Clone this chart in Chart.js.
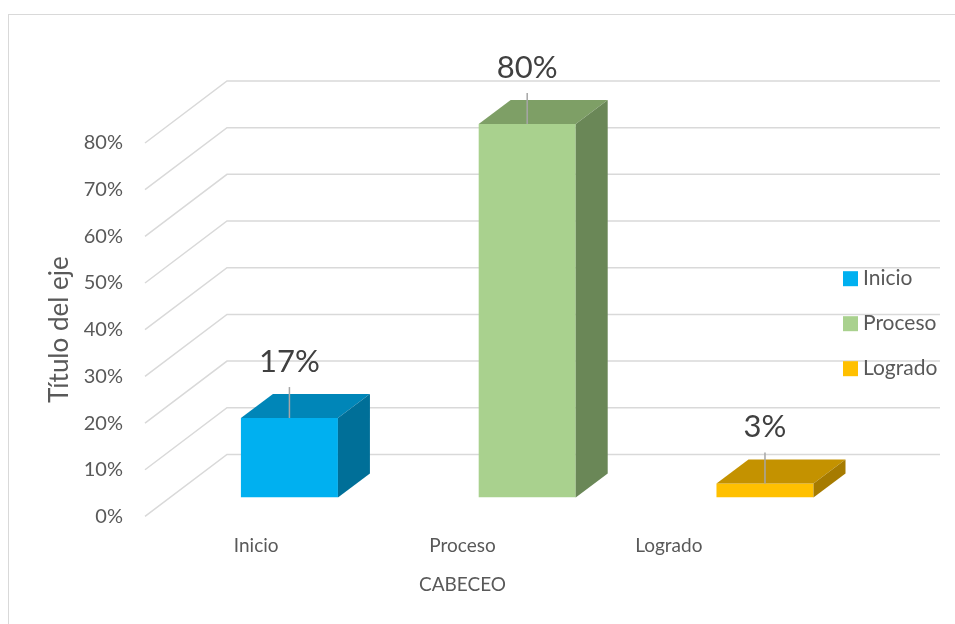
<!DOCTYPE html>
<html>
<head>
<meta charset="utf-8">
<script src="https://cdn.jsdelivr.net/npm/chart.js@4"></script>
<style>
    body { margin: 0; background: #fff; }
    #wrap { position: relative; width: 955px; height: 624px; }
    #frame {
        position: absolute; left: 8px; top: 14px; width: 960px; height: 620px;
        border: 1.5px solid #d9d9d9; pointer-events: none;
    }
</style>
</head>
<body>
<div id="wrap">
    <div id="frame"></div>
    <canvas id="chart"></canvas>
</div>
<script>
// Data
const categories = ['Inicio', 'Proceso', 'Logrado'];
const values = [0.17, 0.80, 0.03];
const yTicks = [0, 0.1, 0.2, 0.3, 0.4, 0.5, 0.6, 0.7, 0.8];
const axisTitleY = 'Título del eje';
const axisTitleX = 'CABECEO';

// Colours: front face, top face, side face
const frontColors = ['#00B0F0', '#A9D18E', '#FFC000'];
const topColors = ['#0086B8', '#7E9F66', '#C49200'];
const sideColors = ['#006F98', '#6A8757', '#A67B00'];

const textColor = '#595959';
const gridColor = '#d9d9d9';

// 3D look (oblique projection, like the Excel 3-D column)
const floorDepth = { dx: 82, dy: -62 };   // side wall slant
const barDepth = { dx: 32, dy: -24 };     // bar top/side depth
const barShift = { scale: 1.1524, x: 64.7, y: -19 }; // bars sit mid-depth

function mapX(chart, x) {
    const area = chart.chartArea;
    const cx = (area.left + area.right) / 2;
    return cx + (x - cx) * barShift.scale + barShift.x;
}

const threeD = {
    id: 'threeD',
    beforeDatasetsDraw(chart) {
        const ctx = chart.ctx;
        const area = chart.chartArea;
        const yScale = chart.scales.y;
        const fx = area.left - 8;
        const rightEdge = chart.width - 15;

        // side wall + back wall gridlines
        ctx.save();
        ctx.strokeStyle = gridColor;
        ctx.lineWidth = 1.5;
        yScale.ticks.forEach(t => {
            const y = yScale.getPixelForValue(t.value);
            ctx.beginPath();
            ctx.moveTo(fx, y);
            ctx.lineTo(fx + floorDepth.dx, y + floorDepth.dy);
            ctx.lineTo(rightEdge, y + floorDepth.dy);
            ctx.stroke();
        });
        ctx.restore();

        // push the front faces back into the floor
        const cx = (area.left + area.right) / 2;
        ctx.save();
        ctx.translate(cx + barShift.x, barShift.y);
        ctx.scale(barShift.scale, 1);
        ctx.translate(-cx, 0);
    },
    afterDatasetsDraw(chart) {
        const ctx = chart.ctx;
        ctx.restore();

        const meta = chart.getDatasetMeta(0);
        meta.data.forEach((bar, i) => {
            const p = bar.getProps(['x', 'y', 'base', 'width'], true);
            const xl = mapX(chart, p.x - p.width / 2);
            const xr = mapX(chart, p.x + p.width / 2);
            const top = p.y + barShift.y;
            const bottom = p.base + barShift.y;
            const dx = barDepth.dx, dy = barDepth.dy;

            // top face
            ctx.fillStyle = topColors[i];
            ctx.beginPath();
            ctx.moveTo(xl, top);
            ctx.lineTo(xr, top);
            ctx.lineTo(xr + dx, top + dy);
            ctx.lineTo(xl + dx, top + dy);
            ctx.closePath();
            ctx.fill();

            // side face
            ctx.fillStyle = sideColors[i];
            ctx.beginPath();
            ctx.moveTo(xr, top);
            ctx.lineTo(xr + dx, top + dy);
            ctx.lineTo(xr + dx, bottom + dy);
            ctx.lineTo(xr, bottom);
            ctx.closePath();
            ctx.fill();

            // leader line + data label
            const cxBar = (xl + xr) / 2;
            ctx.strokeStyle = '#a6a6a6';
            ctx.lineWidth = 1.5;
            ctx.beginPath();
            ctx.moveTo(cxBar, top);
            ctx.lineTo(cxBar, top - 31);
            ctx.stroke();

            ctx.fillStyle = '#404040';
            ctx.font = '31px Lato';
            ctx.textAlign = 'center';
            ctx.textBaseline = 'middle';
            ctx.fillText(Math.round(values[i] * 100) + '%', cxBar, top - 56);
        });
    },
    afterDraw(chart) {
        // legend, one row per category
        const ctx = chart.ctx;
        const area = chart.chartArea;
        const midY = (area.top + area.bottom) / 2;
        const bx = area.right + 71;
        ctx.save();
        ctx.font = '21px Lato';
        ctx.textAlign = 'left';
        ctx.textBaseline = 'middle';
        categories.forEach((name, i) => {
            const y = midY - 51 + i * 45;
            ctx.fillStyle = frontColors[i];
            ctx.fillRect(bx, y - 7.5, 15, 15);
            ctx.fillStyle = textColor;
            ctx.fillText(name, bx + 20, y);
        });
        ctx.restore();
    }
};

Chart.defaults.font.family = 'Lato';
Chart.defaults.color = textColor;

new Chart(document.getElementById('chart'), {
    type: 'bar',
    data: {
        labels: categories,
        datasets: [{
            data: values,
            backgroundColor: frontColors,
            categoryPercentage: 1,
            barPercentage: 0.408
        }]
    },
    options: {
        responsive: true,
        maintainAspectRatio: false,
        animation: false,
        layout: {
            padding: { left: 38, top: 143, right: 183, bottom: 18 }
        },
        plugins: {
            legend: { display: false },
            tooltip: { enabled: false }
        },
        scales: {
            x: {
                offset: true,
                grid: { display: false },
                border: { display: false },
                ticks: { padding: 10, font: { size: 19 }, color: textColor },
                title: {
                    display: true,
                    text: axisTitleX,
                    font: { size: 19 },
                    color: textColor,
                    padding: { top: 6, bottom: 10 }
                }
            },
            y: {
                min: 0,
                max: 0.8,
                afterBuildTicks: s => { s.ticks = yTicks.map(v => ({ value: v })); },
                afterFit: s => { s.width = 115; },
                grid: { display: false },
                border: { display: false },
                ticks: {
                    padding: 22,
                    font: { size: 20 },
                    color: textColor,
                    callback: v => Math.round(v * 100) + '%'
                },
                title: {
                    display: true,
                    text: axisTitleY,
                    font: { size: 26 },
                    color: textColor,
                    padding: { top: 6, bottom: 0 }
                }
            }
        }
    },
    plugins: [threeD]
});
</script>
</body>
</html>
